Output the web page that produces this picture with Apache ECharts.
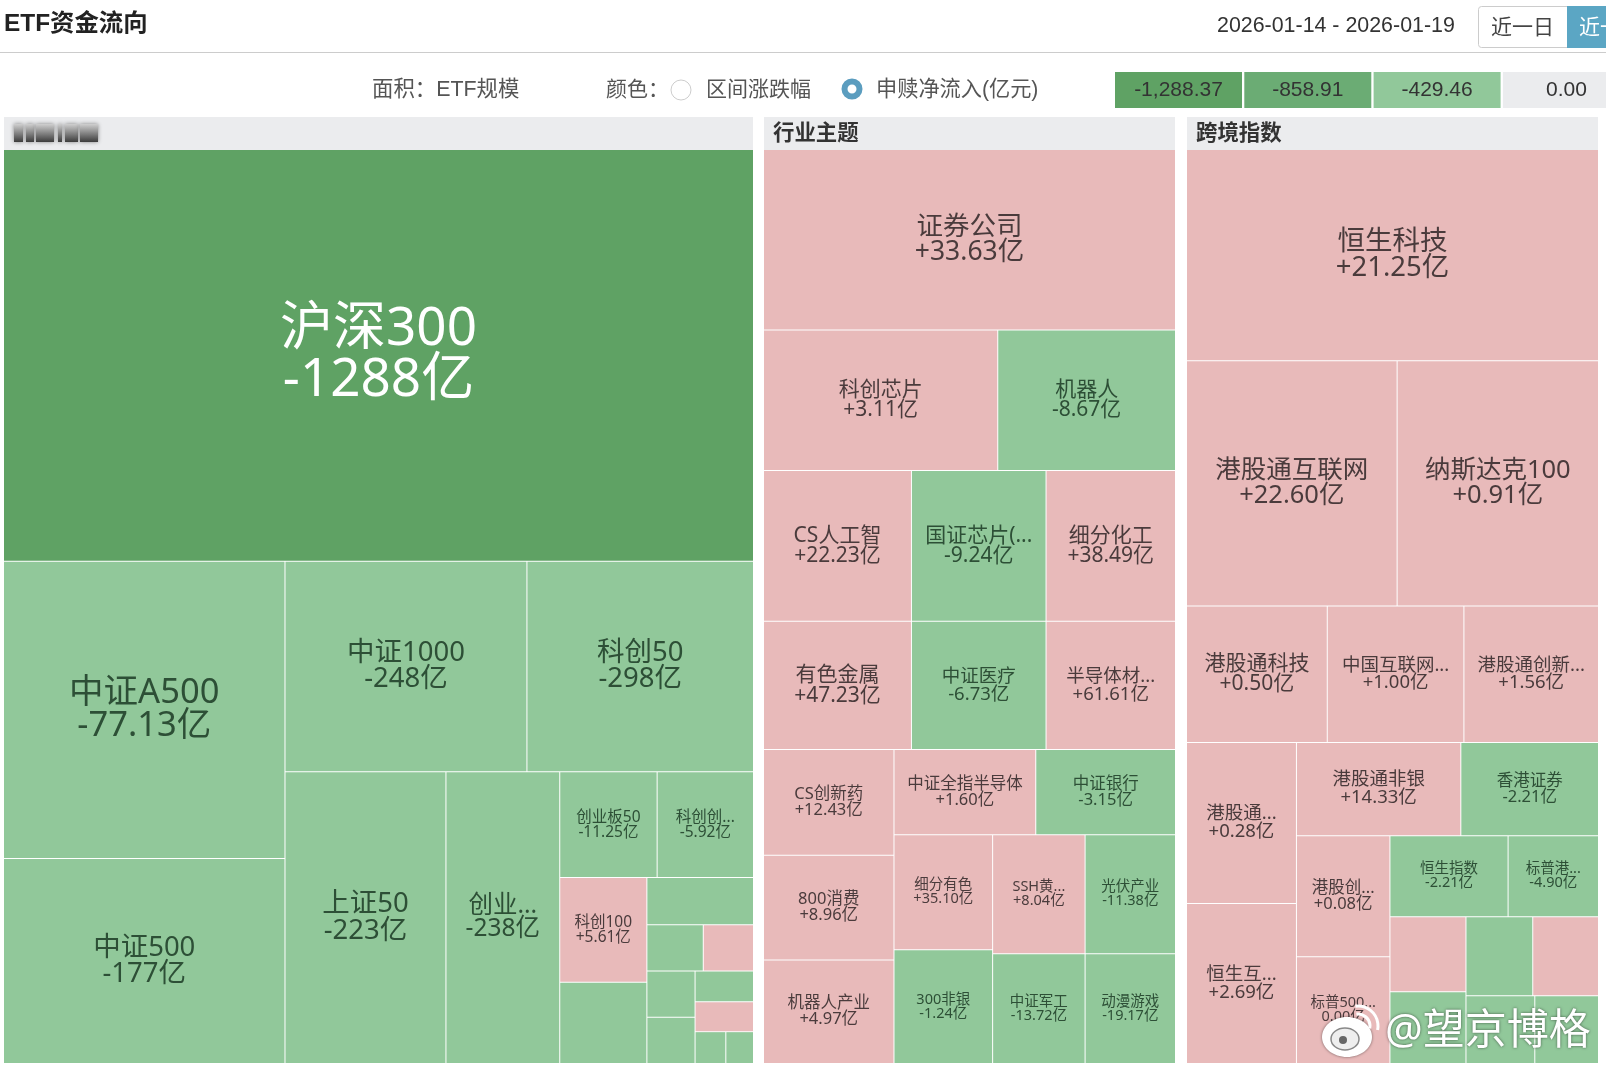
<!DOCTYPE html>
<html>
<head>
<meta charset="utf-8">
<title>ETF资金流向</title>
<script src="https://cdn.jsdelivr.net/npm/echarts@6/dist/echarts.min.js"></script>
<style>
  html, body { margin: 0; padding: 0; background: #fff; }
  #chart { width: 1606px; height: 1070px; }
</style>
</head>
<body>
<div id="chart"></div>
<script>
// 宽基 (blurred header in the source picture), 规模
const wideNames = ['沪深300', '中证A500', '中证500', '中证1000', '科创50', '上证50', '创业...', '创业板50', '科创创...', '科创100', '', '', '', '', '', '', '', '', '', ''];
const wideSizes = [293131, 79460, 54800, 48380, 45305, 44588, 31524, 9785, 9682, 8670, 6715, 4784, 2475, 2205, 2115, 2115, 1710, 1653, 930, 837];
const wideFlows = [-1288, -77.13, -177, -248, -298, -223, -238, -11.25, -5.92, 5.61, -1, -1, -1, 1, -1, -1, -1, 1, -1, -1];

// 行业主题
const themeNames = ['证券公司', '科创芯片', '机器人', 'CS人工智', '国证芯片(...', '细分化工', '有色金属', '中证医疗', '半导体材...', 'CS创新药', '800消费', '机器人产业', '中证全指半导体', '中证银行', '细分有色', '300非银', 'SSH黄...', '光伏产业', '中证军工', '动漫游戏'];
const themeSizes = [70576, 31236, 23701, 21168, 19257, 18522, 18000, 16375, 15750, 13081, 12954, 12827, 11454, 11288, 10752, 10656, 10440, 10208, 9630, 9416];
const themeFlows = [33.63, 3.11, -8.67, 22.23, -9.24, 38.49, 47.23, -6.73, 61.61, 12.43, 8.96, 4.97, 1.60, -3.15, 35.10, -1.24, 8.04, -11.38, -13.72, -19.17];

// 跨境指数
const crossNames = ['恒生科技', '港股通互联网', '纳斯达克100', '港股通科技', '中国互联网...', '港股通创新...', '港股通...', '恒生互...', '港股通非银', '香港证券', '港股创...', '标普500...', '恒生指数', '标普港...', '', '', '', '', '', ''];
const crossSizes = [82606, 48995, 46844, 18221, 17689, 17423, 16799, 16692, 14560, 12194, 10738, 9464, 9085, 6952, 5402, 5180, 5005, 4928, 4422, 4092];
const crossFlows = [21.25, 22.60, 0.91, 0.50, 1.00, 1.56, 0.28, 2.69, 14.33, -2.21, 0.08, 0, -2.21, -4.90, 1, -1, -1, 1, -1, -1];

// 图例
const legendValues = [-1288.37, -858.91, -429.46, 0];
const legendLabels = ['-1,288.37', '-858.91', '-429.46', '0.00'];
const legendColors = ['#5fa264', '#6bac74', '#91c89a', '#ebecee'];
const PINK = '#e8baba';

const UI_FONT = '"Liberation Sans","Noto Sans CJK SC",sans-serif';
const CELL_FONT = '"Noto Sans","Noto Sans CJK SC",sans-serif';

// 字号按面积分档，每个面板不一样
const wideSteps = [[200000, 53], [70000, 34.5], [40000, 27.5], [25000, 24.5], [0, 15.5]];
const themeSteps = [[60000, 26.5], [18000, 21], [14000, 18.5], [11000, 16.5], [0, 14.5]];
const crossSteps = [[80000, 27.5], [40000, 25.5], [18000, 21], [14000, 18.5], [10000, 16.5], [0, 14.5]];

function fontSizeOf(size, steps) {
  for (const s of steps) {
    if (size >= s[0]) return s[1];
  }
  return 14;
}

function colorOf(flow) {
  if (flow >= 0) return PINK;
  if (flow <= legendValues[1]) return legendColors[0];
  if (flow <= legendValues[2]) return legendColors[1];
  return legendColors[2];
}

function flowText(flow) {
  if (flow === 0) return '0.00亿';
  const sign = flow > 0 ? '+' : '';
  return sign + (Math.abs(flow) >= 100 ? flow.toFixed(0) : flow.toFixed(2)) + '亿';
}

function buildNodes(names, sizes, flows, steps) {
  return names.map((name, i) => {
    const fs = fontSizeOf(sizes[i], steps);
    const dark = flows[i] <= legendValues[1];
    return {
      name: name,
      value: sizes[i],
      flow: flows[i],
      itemStyle: { color: colorOf(flows[i]) },
      label: {
        show: name !== '',
        fontSize: fs,
        lineHeight: fs * 0.96,
        color: dark ? '#fff' : (flows[i] >= 0 ? '#4a3b3c' : '#2d4f36')
      }
    };
  });
}

function treemapSeries(left, width, nodes) {
  return {
    type: 'treemap',
    left: left,
    top: 150,
    width: width,
    height: 913,
    squareRatio: 0.9,
    roam: false,
    nodeClick: false,
    breadcrumb: { show: false },
    animation: false,
    silent: true,
    itemStyle: { borderWidth: 0, gapWidth: 1, borderColor: '#fff' },
    label: {
      show: true,
      position: 'inside',
      overflow: 'none',
      fontFamily: CELL_FONT,
      align: 'center',
      verticalAlign: 'middle',
      formatter: p => p.name + '\n' + flowText(p.data.flow)
    },
    data: nodes
  };
}

function text(x, y, str, size, color, extra) {
  return Object.assign({
    type: 'text',
    x: x,
    y: y,
    z: 10,
    style: Object.assign({
      text: str,
      fontSize: size,
      fontFamily: UI_FONT,
      fill: color,
      textVerticalAlign: 'middle'
    }, extra || {})
  });
}

function rect(x, y, w, h, fill, extra) {
  return {
    type: 'rect',
    z: 5,
    shape: Object.assign({ x: x, y: y, width: w, height: h }, extra || {}),
    style: { fill: fill }
  };
}

// 页头、图例、面板标题
const graphics = [
  text(4, 24, 'ETF资金流向', 24.4, '#222', { fontWeight: 'bold' }),
  rect(0, 52, 1606, 1, '#ccc'),
  text(1217, 26, '2026-01-14 - 2026-01-19', 21.4, '#333'),
  { type: 'rect', z: 5, shape: { x: 1478.5, y: 6.5, width: 100, height: 41, r: 3 }, style: { fill: '#fff', stroke: '#ccc', lineWidth: 1 } },
  rect(1567, 6, 40, 42, '#5ba6c4'),
  text(1491, 28, '近一日', 21, '#444'),
  text(1579, 28, '近一周', 21, '#fff'),

  text(372, 90, '面积：ETF规模', 21.4, '#555'),
  text(606, 90, '颜色：', 21, '#555'),
  { type: 'circle', z: 5, shape: { cx: 681, cy: 90, r: 10 }, style: { fill: '#fff', stroke: '#ccc', lineWidth: 1 } },
  text(706, 90, '区间涨跌幅', 21, '#555'),
  { type: 'circle', z: 5, shape: { cx: 852, cy: 89, r: 7.5 }, style: { fill: '#fff', stroke: '#5b9dbf', lineWidth: 6 } },
  text(876, 90, '申赎净流入(亿元)', 21.2, '#555'),

  rect(4, 117, 749, 33, '#ebecee'),
  rect(764, 117, 411, 33, '#ebecee'),
  rect(1187, 117, 411, 33, '#ebecee'),
  text(773, 134, '行业主题', 21.4, '#333', { fontWeight: 'bold' }),
  text(1196, 134, '跨境指数', 21.4, '#333', { fontWeight: 'bold' })
];

legendLabels.forEach((label, i) => {
  const x = 1115 + i * 129.3;
  graphics.push(rect(x, 72, 127, 36, legendColors[i]));
  graphics.push(text(x + 63.5, 90, label, 21, '#333', { textAlign: 'center' }));
});

// 第一个面板标题在原图里是糊掉的
[[14, 9], [26, 8], [36, 18], [58, 4], [65, 13], [80, 18]].forEach(b => {
  graphics.push({
    type: 'rect',
    z: 6,
    shape: { x: b[0], y: 124, width: b[1], height: 18 },
    style: {
      fill: new echarts.graphic.LinearGradient(0, 0, 0, 1, [
        { offset: 0, color: '#cfcfcf' },
        { offset: 1, color: '#3c3c3c' }
      ]),
      shadowBlur: 4,
      shadowColor: 'rgba(60,60,60,.6)'
    }
  });
});

// 水印
graphics.push(
  { type: 'ellipse', z: 20, shape: { cx: 1347, cy: 1037, rx: 25, ry: 20 }, style: { fill: '#fff', shadowBlur: 3, shadowColor: 'rgba(0,0,0,.5)' } },
  { type: 'ellipse', z: 21, shape: { cx: 1345, cy: 1039, rx: 14, ry: 11 }, style: { fill: '#eee', stroke: '#888', lineWidth: 1.5 } },
  { type: 'circle', z: 22, shape: { cx: 1343, cy: 1040, r: 4 }, style: { fill: '#666' } },
  { type: 'arc', z: 21, shape: { cx: 1358, cy: 1026, r: 12, startAngle: -1.7, endAngle: 0.2 }, style: { stroke: '#fff', fill: 'none', lineWidth: 3 } },
  { type: 'arc', z: 21, shape: { cx: 1358, cy: 1026, r: 20, startAngle: -1.7, endAngle: 0.2 }, style: { stroke: '#fff', fill: 'none', lineWidth: 3 } },
  Object.assign(text(1385, 1032, '@望京博格', 42, '#fff', {
    fontFamily: CELL_FONT,
    shadowBlur: 3,
    shadowColor: 'rgba(0,0,0,.55)',
    textShadowBlur: 3,
    textShadowColor: 'rgba(0,0,0,.55)'
  }), { z: 20 })
);

const chart = echarts.init(document.getElementById('chart'));
chart.setOption({
  animation: false,
  graphic: { elements: graphics },
  series: [
    treemapSeries(4, 749, buildNodes(wideNames, wideSizes, wideFlows, wideSteps)),
    treemapSeries(764, 411, buildNodes(themeNames, themeSizes, themeFlows, themeSteps)),
    treemapSeries(1187, 411, buildNodes(crossNames, crossSizes, crossFlows, crossSteps))
  ]
});
</script>
</body>
</html>
